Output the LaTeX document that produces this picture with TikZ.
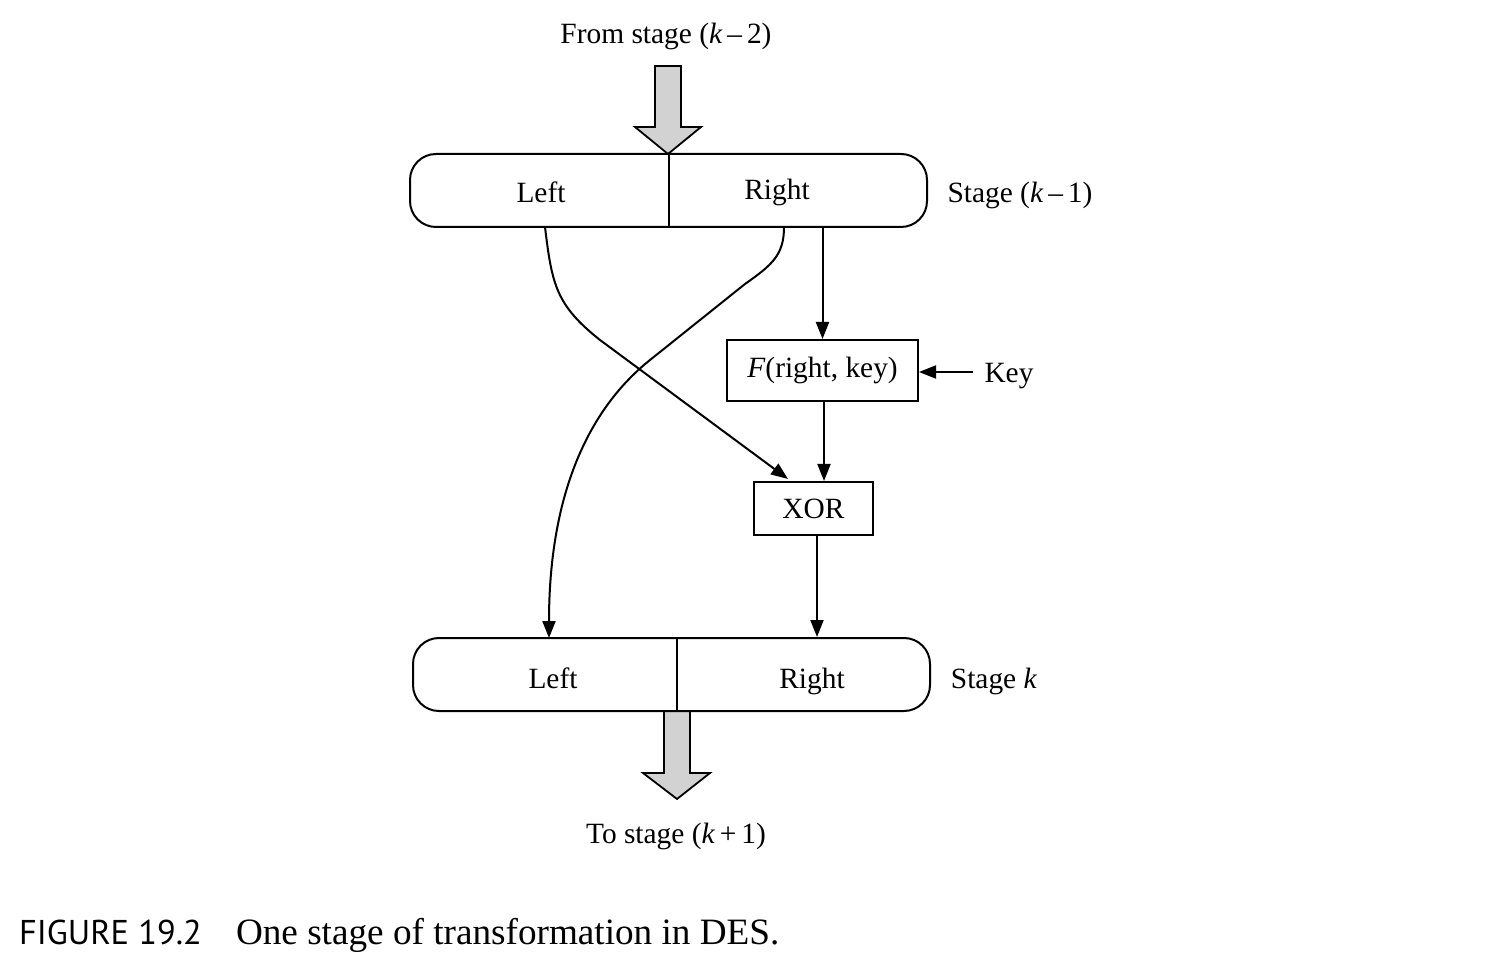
\documentclass[tikz,border=0pt]{standalone}
\usepackage{fontspec}
\setmainfont{Liberation Serif}
\newfontfamily\capsans{PT Sans}
\usetikzlibrary{arrows.meta}
\begin{document}
\begin{tikzpicture}[x=0.5pt,y=-0.5pt, line width=1pt,
  stagebox/.style={draw, rounded corners=13pt, minimum width=258.5pt, minimum height=36.5pt, inner sep=0pt},
  funcbox/.style={draw, inner sep=0pt, font=\fontsize{14.7}{17}\selectfont},
  lbl/.style={font=\fontsize{14.7}{17}\selectfont, inner sep=0pt, anchor=base},
  arr/.style={-{Triangle[length=8.5pt,width=6.5pt]}},
  fat/.style={draw, fill=gray!35, line width=0.9pt, line join=miter}]
\useasboundingbox (0,0) rectangle (1504,956);

% fat arrows
\draw[fat] (655,66) -- (681,66) -- (681,127) -- (701,127) -- (668,154) -- (635,127) -- (655,127) -- cycle;
\draw[fat] (664,711) -- (690,711) -- (690,773) -- (710,773) -- (677,799) -- (643,773) -- (664,773) -- cycle;

% stage boxes
\node[stagebox] (top) at (668.5,190.5) {};
\draw (top.north) -- (top.south);
\node[stagebox] (bot) at (671.5,674.5) {};
\draw (677,638) -- (677,711);

\node[lbl] (tl) at (541,203) {Left};
\node[lbl] (tr) at (777,200) {Right};
\node[lbl] (bl) at (553,688) {Left};
\node[lbl] (br) at (812,688) {Right};

\node[lbl] (from) at (666,44) {From stage (\textit{k}\,–\,2)};
\node[lbl] (to) at (676,843) {To stage (\textit{k}\,+\,1)};
\node[lbl] (s1) at (1020,203) {Stage (\textit{k}\,–\,1)};
\node[lbl] (sk) at (994,688) {Stage \textit{k}};

% function and xor
\node[funcbox, minimum width=95.5pt, minimum height=30.5pt] (F) at (822.5,370.5) {\textit{F}(right, key)};
\node[funcbox, minimum width=59.5pt, minimum height=26.5pt] (X) at (813.5,508.5) {XOR};
\node[lbl] (key) at (1009,383) {Key};

\draw[arr] (top.south -| F.north) -- (F.north);
\draw[arr] ([xshift=0.75pt]F.south) -- ([xshift=0.75pt]F.south |- X.north);
\draw[arr] ([xshift=1.75pt]X.south) -- ([xshift=1.75pt]X.south |- bot.north);
\draw[arr] (973,372) -- (F.east |- 0,372);

% crossing curves
\coordinate (ls) at (545,227);
\coordinate (le) at (788,479);
\coordinate (rs) at (784,227);
\coordinate (re) at (549,638);
\draw[arr] (ls) .. controls (552,285) and (556,305) .. (600,340) -- (le);
\draw[arr] (rs) .. controls (784,255) and (772,265) .. (745,284) -- (650,360) .. controls (585,412) and (549,500) .. (re);

% caption
\node[inner sep=0pt, anchor=base west, font=\capsans\fontsize{17.2}{20}\selectfont] (capnum) at (18,944) {FIGURE 19.2};
\node[inner sep=0pt, anchor=base west, font=\fontsize{18.6}{22}\selectfont] (captxt) at (235,944) {One stage of transformation in DES.};
\end{tikzpicture}
\end{document}
